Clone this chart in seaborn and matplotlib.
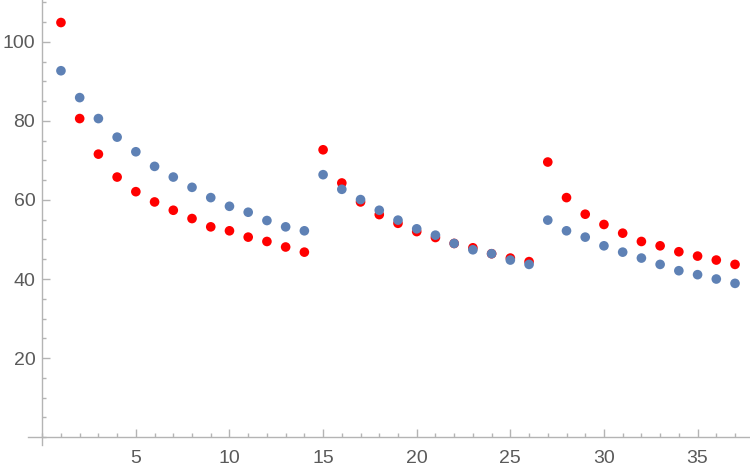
import pandas as pd
import seaborn as sns
import matplotlib.pyplot as plt
from matplotlib.ticker import MultipleLocator, FixedLocator

x_values = list(range(1, 38))

red_values = [104.9, 80.6, 71.6, 65.8, 62.1, 59.5, 57.4, 55.3, 53.2, 52.2,
              50.6, 49.5, 48.1, 46.8, 72.7, 64.3, 59.5, 56.3, 54.1, 52.0,
              50.5, 49.0, 47.9, 46.4, 45.3, 44.4, 69.6, 60.6, 56.4, 53.8,
              51.6, 49.5, 48.4, 46.9, 45.8, 44.8, 43.7]

blue_values = [92.7, 85.9, 80.6, 75.9, 72.2, 68.5, 65.8, 63.2, 60.6, 58.4,
               56.9, 54.8, 53.2, 52.2, 66.4, 62.7, 60.1, 57.4, 54.9, 52.7,
               51.1, 49.0, 47.4, 46.4, 44.8, 43.7, 54.9, 52.2, 50.6, 48.4,
               46.8, 45.3, 43.7, 42.1, 41.1, 40.0, 38.9]

x_ticks = [5, 10, 15, 20, 25, 30, 35]
y_ticks = [20, 40, 60, 80, 100]

# red first so the blue points sit on top
data = pd.concat([
    pd.DataFrame({'n': x_values, 'value': red_values, 'series': 'red'}),
    pd.DataFrame({'n': x_values, 'value': blue_values, 'series': 'blue'}),
], ignore_index=True)

sns.set_style('white')
plt.rcParams['font.family'] = ['Liberation Sans', 'DejaVu Sans']

fig = plt.figure(figsize=(7.5, 4.73), dpi=100)
ax = fig.add_axes([28 / 750, 28 / 473, 722 / 750, 445 / 473])

sns.scatterplot(data=data, x='n', y='value', hue='series',
                palette={'red': '#ff0000', 'blue': '#5e81b5'},
                s=48, linewidth=0, legend=False, ax=ax, clip_on=False)

ax.set_xlim(-0.76, 37.8)
ax.set_ylim(-2, 110.6)
ax.set_xlabel('')
ax.set_ylabel('')

axis_gray = '#b4b4b4'
for side in ['top', 'right']:
    ax.spines[side].set_visible(False)
ax.spines['left'].set_position(('data', 0))
ax.spines['bottom'].set_position(('data', 0))
for side in ['left', 'bottom']:
    ax.spines[side].set_color(axis_gray)
    ax.spines[side].set_linewidth(1)

ax.xaxis.set_major_locator(FixedLocator(x_ticks))
ax.xaxis.set_minor_locator(MultipleLocator(1))
ax.yaxis.set_major_locator(FixedLocator(y_ticks))
ax.yaxis.set_minor_locator(MultipleLocator(5))

ax.tick_params(which='both', direction='in', bottom=True, left=True,
               color=axis_gray, width=1, labelcolor='#5a5a5a', labelsize=14)
ax.tick_params(which='major', length=6)
ax.tick_params(which='minor', length=3)
ax.tick_params(axis='x', which='major', pad=9)
ax.tick_params(axis='y', which='major', pad=5)

fig.savefig('out.png', dpi=100)
